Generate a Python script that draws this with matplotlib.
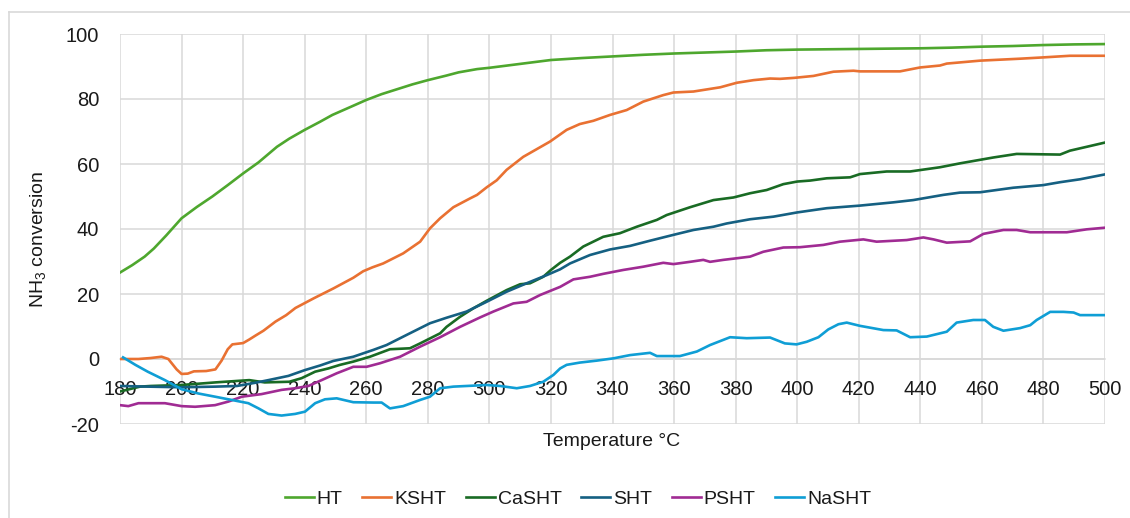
import matplotlib
matplotlib.use("Agg")
import matplotlib.pyplot as plt
from matplotlib.lines import Line2D

plt.rcParams['font.family'] = ['Liberation Sans', 'DejaVu Sans']
plt.rcParams['mathtext.fontset'] = 'custom'
plt.rcParams['mathtext.rm'] = 'Liberation Sans'
plt.rcParams['mathtext.it'] = 'Liberation Sans'
plt.rcParams['mathtext.bf'] = 'Liberation Sans'
plt.rcParams['axes.unicode_minus'] = False

# ---------------- data ----------------
series_names = ["HT", "KSHT", "CaSHT", "SHT", "PSHT", "NaSHT"]
series_colors = ["#4EA72E", "#E97132", "#196B24", "#156082", "#A02B93", "#0F9ED5"]

ht_t = [180, 184, 188, 191, 195, 200, 205, 210, 215, 220, 225, 231, 235, 240, 245, 249, 255, 260, 265, 271,
        275, 280, 286, 290, 296, 300, 305, 310, 315, 320, 330, 340, 350, 360, 370, 380, 390, 400, 410, 420,
        430, 440, 450, 460, 470, 480, 490, 500]
ht_v = [26.6, 28.9, 31.5, 34.0, 38.0, 43.3, 46.8, 50.0, 53.5, 57.1, 60.5, 65.3, 67.8, 70.5, 73.0, 75.1, 77.6,
        79.7, 81.5, 83.3, 84.5, 85.8, 87.2, 88.2, 89.2, 89.6, 90.2, 90.8, 91.4, 92.0, 92.6, 93.1, 93.6, 94.0,
        94.3, 94.6, 95.0, 95.2, 95.3, 95.4, 95.5, 95.6, 95.8, 96.1, 96.3, 96.6, 96.8, 96.9]

ksht_t = [180, 186, 190, 193.5, 195.7, 198.4, 200, 202, 204, 208, 211, 213, 215, 216.5, 220, 222, 224, 226.6,
          230.5, 234, 237, 243, 249.3, 255.8, 259, 262, 265.5, 272, 277.5, 280.7, 284, 288.3, 293.7, 296,
          299.1, 302.4, 305.6, 311, 319.7, 325.1, 329.4, 333.8, 339.2, 344.6, 350, 356.5, 359.8, 366.3, 375,
          380.4, 385.8, 391.2, 394.4, 399, 405.3, 411.8, 418.3, 420.4, 433.4, 439.9, 446.4, 448.6, 459.4,
          472.4, 479.9, 488.6, 500]
ksht_v = [0.0, 0.0, 0.3, 0.7, 0.0, -3.2, -4.6, -4.5, -3.8, -3.7, -3.2, -0.5, 3.0, 4.5, 4.9, 6.0, 7.2, 8.7,
          11.5, 13.5, 15.7, 18.7, 21.7, 25.0, 27.0, 28.2, 29.4, 32.5, 36.1, 40.2, 43.3, 46.7, 49.4, 50.5,
          52.8, 55.0, 58.2, 62.2, 66.9, 70.5, 72.3, 73.3, 75.1, 76.6, 79.2, 81.2, 82.0, 82.3, 83.6,
          85.0, 85.8, 86.3, 86.2, 86.5, 87.1, 88.4, 88.7, 88.5, 88.5, 89.7, 90.3, 90.9, 91.8,
          92.4, 92.8, 93.3, 93.3]

casht_t = [180, 186.5, 190, 200, 211, 222, 227, 235, 239, 243.4, 247.7, 251.5, 255.8, 261.2, 267.7, 274.2,
           277.5, 284, 286.1, 290.5, 294.8, 299.1, 305.6, 310, 313.2, 317.5, 320, 323, 326.2, 330.5, 337,
           342.4, 347.9, 354.4, 357.6, 365.2, 372.8, 379.3, 384.7, 390.1, 395.5, 400, 404.2, 409.6, 417.2,
           420.4, 429.1, 436.7, 446.4, 452.9, 463.7, 471.3, 485.4, 488.6, 494.1, 500]
casht_v = [-10.0, -8.5, -8.3, -8.0, -7.2, -6.5, -7.2, -7.0, -5.9, -3.9, -2.9, -1.8, -0.8, 0.7, 3.0, 3.3,
           4.8, 7.9, 9.9, 13.0, 15.6, 17.9, 21.2, 23.0, 23.3, 25.3, 27.4, 29.6, 31.5, 34.6, 37.6,
           38.7, 40.7, 42.8, 44.3, 46.7, 48.9, 49.7, 51.0, 52.0, 53.8, 54.6, 54.9, 55.6, 55.9,
           56.9, 57.7, 57.7, 59.0, 60.2, 62.0, 63.1, 62.9, 64.1, 65.3, 66.6]

sht_t = [180, 189, 200, 211, 218, 224, 228.2, 234.7, 240.1, 245, 249.3, 255.8, 262.3, 266.6, 273.1, 280.7,
         286.1, 292.6, 299.1, 305.6, 312.1, 318.6, 323, 326.2, 332.7, 339.2, 345.7, 352.2, 359.8, 366.3,
         372.8, 377.1, 384.7, 392.3, 400, 409.6, 420.4, 431.2, 437.7, 447.5, 452.9, 459.4, 470.2, 479.9,
         485.4, 491.9, 500]
sht_v = [-8.3, -8.5, -8.7, -8.5, -8.3, -7.3, -6.5, -5.2, -3.4, -2.0, -0.6, 0.7, 2.8, 4.3, 7.4, 11.0,
         12.7, 14.6, 17.6, 20.7, 23.3, 25.8, 27.6, 29.4, 32.0, 33.7, 34.8, 36.4, 38.2, 39.7,
         40.7, 41.7, 43.0, 43.8, 45.1, 46.4, 47.2, 48.2, 48.9, 50.5, 51.2, 51.3, 52.7, 53.5,
         54.4, 55.3, 56.8]

psht_t = [180, 182.7, 186, 194.6, 200, 204.4, 210.9, 215.2, 219.6, 226, 232.5, 236.9, 241.2, 245.5, 250.4,
          255.8, 260.1, 264.5, 271, 277.5, 284, 290.5, 297, 301.3, 307.8, 312.1, 316.5, 323, 327.3, 332.7,
          337, 343.5, 350, 356.5, 359.8, 365.2, 369.5, 371.7, 376, 380.4, 384.7, 389, 395.5, 400.9, 408.5,
          413.9, 421.5, 425.8, 435.6, 441, 444.3, 448.6, 456.2, 460.5, 467, 471.3, 475.7, 487.6, 494.1, 500]
psht_v = [-14.2, -14.5, -13.6, -13.6, -14.5, -14.7, -14.2, -13.1, -11.6, -10.8, -9.5, -9.0, -8.3, -6.5, -4.4,
          -2.4, -2.4, -1.3, 0.7, 3.8, 6.7, 9.9, 12.8, 14.6, 17.1, 17.6, 19.7, 22.2, 24.5, 25.3,
          26.2, 27.4, 28.4, 29.6, 29.2, 29.9, 30.5, 29.9, 30.5, 31.0, 31.5, 33.0, 34.3, 34.4, 35.1,
          36.1, 36.8, 36.1, 36.6, 37.4, 36.8, 35.8, 36.2, 38.5, 39.7, 39.7, 39.0, 39.0, 39.9, 40.4]

nasht_t = [181, 185, 189, 194.6, 200, 205.4, 210.9, 216.3, 221.7, 225, 228.2, 232.5, 236.9, 240.1, 243.4,
           246.6, 250.4, 255.8, 262.3, 265, 267.7, 272, 277.5, 280.7, 284, 288.3, 294.8, 299.1, 303.5, 308.9,
           313.2, 317.5, 320.8, 323, 325.1, 329.4, 334.9, 340.3, 345.7, 352.2, 354.4, 361.9, 367.4, 371.7,
           378.2, 383.6, 391.2, 396, 399.8, 403.1, 406.9, 410.1, 413.4, 416.1, 420.4, 428, 432.3, 436.7,
           442.1, 448.6, 451.8, 457.2, 461, 463.7, 467, 472.4, 475.7, 477.8, 482.2, 486.5, 489.8, 491.9, 500]
nasht_v = [0.5, -1.8, -3.9, -6.5, -9.3, -10.6, -11.6, -12.6, -13.6, -15.2, -16.9, -17.4, -16.9, -16.2, -13.6,
           -12.4, -12.1, -13.3, -13.4, -13.4, -15.2, -14.5, -12.6, -11.6, -9.0, -8.5, -8.2, -8.0, -8.3, -9.0,
           -8.3, -7.0, -4.9, -2.9, -1.8, -1.1, -0.5, 0.2, 1.2, 1.9, 0.9, 0.9, 2.3, 4.3,
           6.7, 6.4, 6.6, 4.8, 4.5, 5.3, 6.7, 9.1, 10.7, 11.2, 10.2, 8.9, 8.8, 6.7,
           6.9, 8.4, 11.2, 12.0, 12.0, 9.9, 8.7, 9.5, 10.4, 12.0, 14.5, 14.5, 14.3, 13.5, 13.5]

x_ticks = [180, 200, 220, 240, 260, 280, 300, 320, 340, 360, 380, 400, 420, 440, 460, 480, 500]
y_ticks = [-20, 0, 20, 40, 60, 80, 100]
x_label = "Temperature °C"
y_label = r"NH$_{\mathrm{3}}$ conversion"

series_t = [ht_t, ksht_t, casht_t, sht_t, psht_t, nasht_t]
series_v = [ht_v, ksht_v, casht_v, sht_v, psht_v, nasht_v]

# ---------------- figure ----------------
W, H = 1130, 518
fig = plt.figure(figsize=(W / 100, H / 100), dpi=100)
ax = fig.add_axes([120 / W, 1 - 424 / H, (1105 - 120) / W, (424 - 34) / H])

grid_c = "#D9D9D9"
text_c = "#1a1a1a"

for t, v, name, c in zip(series_t, series_v, series_names, series_colors):
    ax.plot(t, v, color=c, lw=1.9, label=name, solid_joinstyle="round", zorder=3)

ax.set_xlim(180, 500)
ax.set_ylim(-20, 100)
ax.set_xticks(x_ticks)
ax.set_yticks(y_ticks)
ax.grid(True, color=grid_c, lw=1.1, zorder=0)
ax.set_axisbelow(True)
for s in ["top", "right", "left"]:
    ax.spines[s].set_visible(False)
ax.spines["bottom"].set_position(("data", 0))
ax.spines["bottom"].set_color(grid_c)
ax.spines["bottom"].set_linewidth(1.1)
ax.tick_params(axis="both", length=0, labelsize=14.5, colors=text_c)
ax.tick_params(axis="y", pad=15)
ax.tick_params(axis="x", pad=15)

fig.text(612 / W, 1 - 441 / H, x_label, ha="center", va="center", fontsize=14, color=text_c)
fig.text(38 / W, 1 - 240 / H, y_label, ha="center", va="center", rotation=90, fontsize=14, color=text_c)

leg = fig.legend(loc="center", bbox_to_anchor=(578 / W, 1 - 499 / H), ncol=6, frameon=False,
                 handlelength=1.5, handletextpad=0.15, columnspacing=1.0,
                 prop={"family": ["Liberation Sans Narrow", "Liberation Sans"], "size": 14})
for txt in leg.get_texts():
    txt.set_color(text_c)

# chart area border (top & left visible)
fig.add_artist(Line2D([9 / W, 9 / W], [0, 1 - 12 / H], color=grid_c, lw=1.2, transform=fig.transFigure))
fig.add_artist(Line2D([9 / W, 1], [1 - 12 / H, 1 - 12 / H], color=grid_c, lw=1.2, transform=fig.transFigure))

fig.savefig("out.png", dpi=100)
